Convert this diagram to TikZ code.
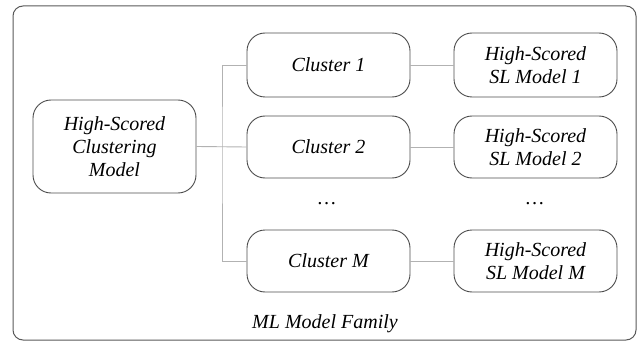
\documentclass[tikz,border=0pt]{standalone}
\usepackage{fontspec}
\setmainfont{Liberation Serif}
\begin{document}
\begin{tikzpicture}[x=1pt,y=-1pt,
  box/.style={draw=black!70,line width=0.9pt,rounded corners=18pt,align=center,inner sep=0pt,font=\itshape\fontsize{20}{23}\selectfont},
  link/.style={draw=black!30,line width=0.9pt},
  txt/.style={font=\itshape\fontsize{20}{23}\selectfont,inner sep=0pt}]
\useasboundingbox (0,0) rectangle (640,342);
\draw[draw=black!65,line width=1pt,rounded corners=10pt] (13,6) rectangle (636,340);
\node[box,minimum width=163pt,minimum height=93pt] (main) at (114.5,146.5) {High-Scored\\Clustering\\Model};
\node[box,minimum width=163pt,minimum height=64pt] (c1) at (328.5,65) {Cluster 1};
\node[box,minimum width=163pt,minimum height=62pt] (c2) at (328.5,147) {Cluster 2};
\node[box,minimum width=163pt,minimum height=62pt] (cm) at (328.5,261) {Cluster M};
\node[box,minimum width=163pt,minimum height=64pt] (s1) at (535.5,65) {High-Scored\\SL Model 1};
\node[box,minimum width=163pt,minimum height=62pt] (s2) at (535.5,147) {High-Scored\\SL Model 2};
\node[box,minimum width=163pt,minimum height=62pt] (sm) at (535.5,261) {High-Scored\\SL Model M};
\node[txt] (d1) at (327,204) {\dots};
\node[txt] (d2) at (535,204) {\dots};
\node[txt] (lbl) at (325,324) {ML Model Family};
\coordinate (j) at (222,147);
\draw[link] (main.east) -- (c2.west);
\draw[link] (c1.west) -| (j) |- (cm.west);
\draw[link] (c1) -- (s1);
\draw[link] (c2) -- (s2);
\draw[link] (cm) -- (sm);
\end{tikzpicture}
\end{document}
